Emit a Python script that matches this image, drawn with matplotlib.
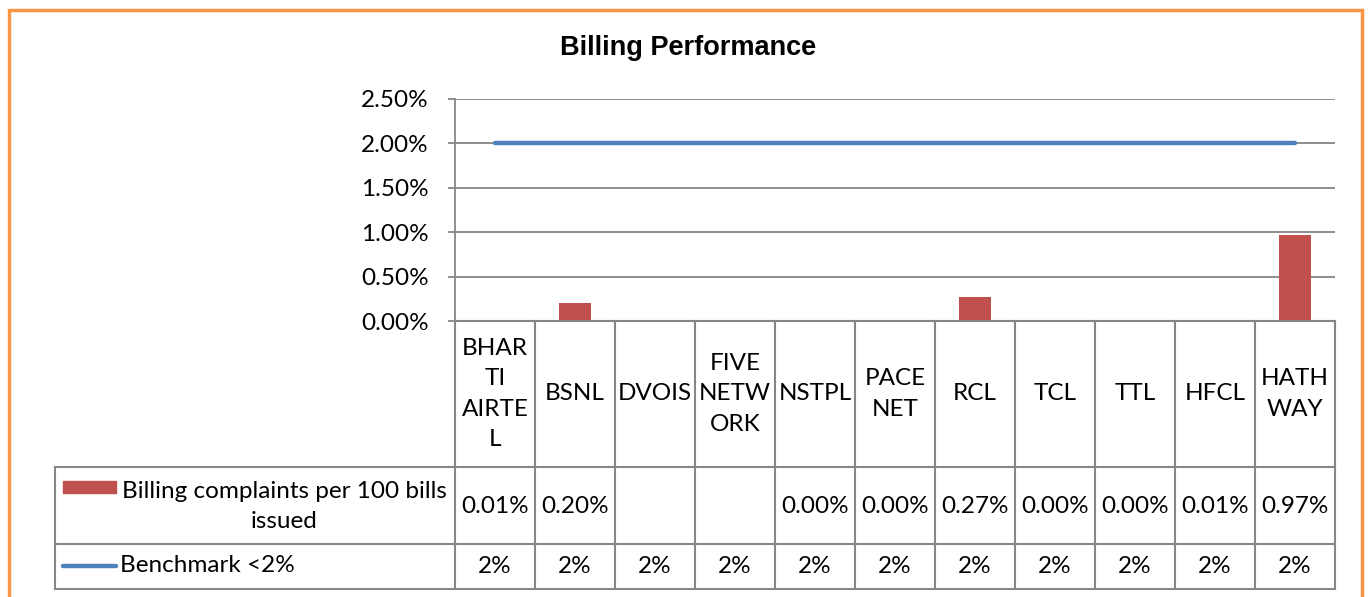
import numpy as np
import matplotlib
matplotlib.use("Agg")
import matplotlib.pyplot as plt
from matplotlib.patches import Rectangle

# ---- data ----
categories = ["BHAR\nTI\nAIRTE\nL", "BSNL", "DVOIS", "FIVE\nNETW\nORK", "NSTPL",
              "PACE\nNET", "RCL", "TCL", "TTL", "HFCL", "HATH\nWAY"]
complaints = [0.01, 0.20, np.nan, np.nan, 0.00, 0.00, 0.27, 0.00, 0.00, 0.01, 0.97]
benchmark = [2, 2, 2, 2, 2, 2, 2, 2, 2, 2, 2]
series_names = ["Billing complaints per 100 bills\nissued", "Benchmark <2%"]
yticks = [0.0, 0.5, 1.0, 1.5, 2.0, 2.5]
title = "Billing Performance"

W, H = 1369, 597
plt.rcParams['font.family'] = ['Lato', 'DejaVu Sans']
fig = plt.figure(figsize=(W / 100, H / 100), dpi=100)

def fx(px):
    return px / W

def fy(py):
    return 1 - py / H

RED = "#C0504D"
BLUE = "#4F81BD"
GRID = "#868686"
FS = 17.5
LS = 1.55

# orange frame
fig.patches.append(Rectangle((fx(9), fy(640)), fx(1362) - fx(9), fy(10) - fy(640),
                             transform=fig.transFigure, fill=False,
                             edgecolor="#F79646", lw=2.5, zorder=0))

# main plot axes
x_left, x_right, y_top, y_zero = 455, 1335, 99, 321
ax = fig.add_axes([fx(x_left), fy(y_zero), fx(x_right) - fx(x_left), fy(y_top) - fy(y_zero)])
n = len(categories)
x = np.arange(n)
ax.set_xlim(-0.5, n - 0.5)
ax.set_ylim(0, 2.5)
bar_vals = np.array(complaints, dtype=float)
ax.bar(x, np.where(np.isnan(bar_vals), 0.0, bar_vals), width=0.41, color=RED, zorder=2)
ax.plot(x, benchmark, color=BLUE, lw=3.2, zorder=3, solid_capstyle='round')
ax.set_yticks(yticks)
ax.set_yticklabels([f"{v:.2f}%" for v in yticks], fontsize=FS)
ax.set_xticks([])
ax.yaxis.grid(True, color=GRID, lw=1.3)
ax.set_axisbelow(True)
for s in ["top", "right", "bottom"]:
    ax.spines[s].set_visible(False)
ax.spines["left"].set_color(GRID)
ax.spines["left"].set_linewidth(1.3)
ax.tick_params(axis='y', length=5, color=GRID, width=1.3, pad=14)

fig.text(fx(688), fy(48), title, ha="center", va="center", fontsize=19.5,
         fontweight="bold", family=["Liberation Sans Narrow", "Liberation Sans"])

# table axes (shares category scale with plot)
tx_left, t_bottom = 55, 589
rows_y = [321, 467, 544, 589]
tax = fig.add_axes([fx(tx_left), fy(t_bottom), fx(x_right) - fx(tx_left), fy(321) - fy(t_bottom)])
unit = (x_right - x_left) / n
tax.set_xlim(-0.5 - (x_left - tx_left) / unit, n - 0.5)
tax.set_ylim(t_bottom, 321)
tax.axis("off")
lk = dict(color=GRID, lw=1.5, solid_capstyle="projecting", clip_on=False)
tax.plot([-0.5, n - 0.5], [rows_y[0]] * 2, **lk)
xl = tax.get_xlim()[0]
for yy in rows_y[1:]:
    tax.plot([xl, n - 0.5], [yy, yy], **lk)
for i in range(n + 1):
    tax.plot([i - 0.5, i - 0.5], [rows_y[0], rows_y[-1]], **lk)
tax.plot([xl, xl], [rows_y[1], rows_y[-1]], **lk)

hdr_y = (rows_y[0] + rows_y[1]) / 2
r1_y = (rows_y[1] + rows_y[2]) / 2
r2_y = (rows_y[2] + rows_y[3]) / 2
for i, c in enumerate(categories):
    tax.text(i, hdr_y, c, ha="center", va="center", fontsize=FS, linespacing=LS)
    v = complaints[i]
    if not np.isnan(v):
        tax.text(i, r1_y + 1, f"{v:.2f}%", ha="center", va="center", fontsize=FS)
    tax.text(i, r2_y, f"{benchmark[i]:.0f}%", ha="center", va="center", fontsize=FS)

# legend keys in table
px2u = 1 / unit
kx0 = xl + (63 - tx_left) * px2u
kx1 = xl + (116 - tx_left) * px2u
tax.add_patch(Rectangle((kx0, 481), kx1 - kx0, 12, color=RED, clip_on=False))
tax.text(xl + (284 - tx_left) * px2u, r1_y + 1, series_names[0], ha="center", va="center",
         fontsize=FS, linespacing=LS)
tax.plot([kx0, kx1], [566, 566], color=BLUE, lw=3.2, solid_capstyle='round', clip_on=False)
tax.text(xl + (120 - tx_left) * px2u, 566, series_names[1], ha="left", va="center", fontsize=FS)

fig.savefig("out.png", dpi=100)
